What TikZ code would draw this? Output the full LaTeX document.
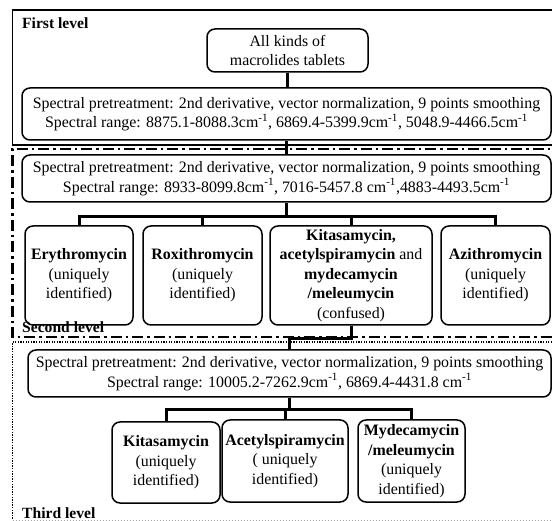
\documentclass[tikz,border=0pt]{standalone}
\usepackage{fontspec}
\setmainfont{Liberation Serif}
\newcommand{\icm}{cm\textsuperscript{-1}}
\begin{document}
\begin{tikzpicture}[x=1pt,y=-1pt,
  box/.style={draw, line width=1.5pt, rounded corners=8pt, inner sep=0pt, align=center,
    font=\fontsize{15.9}{19.5}\selectfont},
  conn/.style={line width=3pt},
  lbl/.style={anchor=base west, inner sep=0pt, font=\bfseries\fontsize{15.6}{19.5}\selectfont},
  frameA/.style={line width=1.5pt},
  frameB/.style={line width=2.2pt, dash pattern=on 11pt off 4pt on 2.5pt off 4pt},
  frameC/.style={line width=1.8pt, dash pattern=on 1.3pt off 1.3pt},
  frameD/.style={line width=0.6pt, gray!70, dash pattern=on 1.5pt off 1.5pt}]
\useasboundingbox (0,0) rectangle (552,521);
\clip (0,0) rectangle (552,521);
\fill[white] (0,0) rectangle (552,521);

% level frames
\draw[frameA] (565,10) -- (12.5,10) -- (12.5,145) -- (565,145);
\draw[frameB] (565,149) -- (12.5,149) -- (12.5,337) -- (565,337);
\draw[frameC] (565,342) -- (12.5,342) -- (12.5,520);
\draw[frameD] (12.5,520) -- (565,520);

\node[lbl] (l1) at (22,29) {First level};
\node[lbl] (l2) at (22,333) {Second level};
\node[lbl] (l3) at (22,518) {Third level};

% nodes
\node[box, minimum width=161pt, minimum height=43pt] (all) at (287.5,50.5)
  {All kinds of\\macrolides tablets};
\node[box, minimum width=529pt, minimum height=52pt] (b1) at (286.5,114)
  {Spectral pretreatment: 2nd derivative, vector normalization, 9 points smoothing\\
   Spectral range: 8875.1-8088.3\icm, 6869.4-5399.9\icm, 5048.9-4466.5\icm};
\node[box, minimum width=529pt, minimum height=47pt] (b2) at (286.5,178.5)
  {Spectral pretreatment: 2nd derivative, vector normalization, 9 points smoothing\\
   Spectral range: 8933-8099.8\icm, 7016-5457.8 \icm,4883-4493.5\icm};

\node[box, minimum width=108pt, minimum height=99pt] (ery) at (79,275.5)
  {\textbf{Erythromycin}\\(uniquely\\identified)};
\node[box, minimum width=119pt, minimum height=99pt] (rox) at (202.5,275.5)
  {\textbf{Roxithromycin}\\(uniquely\\identified)};
\node[box, minimum width=162pt, minimum height=99pt] (kit) at (351,275.5)
  {\textbf{Kitasamycin,}\\\textbf{acetylspiramycin} and\\\textbf{mydecamycin}\\\textbf{/meleumycin}\\(confused)};
\node[box, minimum width=109pt, minimum height=99pt] (azi) at (495.5,275.5)
  {\textbf{Azithromycin}\\(uniquely\\identified)};

\node[box, minimum width=523pt, minimum height=47pt] (b3) at (289.5,373.5)
  {Spectral pretreatment: 2nd derivative, vector normalization, 9 points smoothing\\
   Spectral range: 10005.2-7262.9\icm, 6869.4-4431.8 \icm};

\node[box, minimum width=108pt, minimum height=81pt] (k2) at (166,462.5)
  {\textbf{Kitasamycin}\\(uniquely\\identified)};
\node[box, minimum width=126pt, minimum height=82pt] (ac) at (285,461)
  {\textbf{Acetylspiramycin}\\( uniquely\\identified)};
\node[box, minimum width=107pt, minimum height=82pt] (my) at (411.5,461)
  {\textbf{Mydecamycin}\\\textbf{/meleumycin}\\(uniquely\\identified)};

% connectors
\coordinate (bar2) at (0,217);
\coordinate (j3) at (0,339);
\coordinate (bar3) at (0,410);
\draw[conn] (all.south) -- (all.south |- b1.north);
\draw[conn] (b1.south) -- (b1.south |- b2.north);
\draw[conn] (b2.south) -- (b2.south |- bar2);
\draw[conn] (ery.north) -- (ery.north |- bar2) -- (azi.north |- bar2) -- (azi.north);
\draw[conn] (rox.north) -- (rox.north |- bar2);
\draw[conn] (kit.north) -- (kit.north |- bar2);
\draw[conn] (kit.south) -- (kit.south |- j3) -| (b3.north);
\draw[conn] (b3.south) -- (b3.south |- bar3);
\draw[conn] (k2.north) -- (k2.north |- bar3) -- (my.north |- bar3) -- (my.north);
\draw[conn] (ac.north) -- (ac.north |- bar3);
\end{tikzpicture}
\end{document}
